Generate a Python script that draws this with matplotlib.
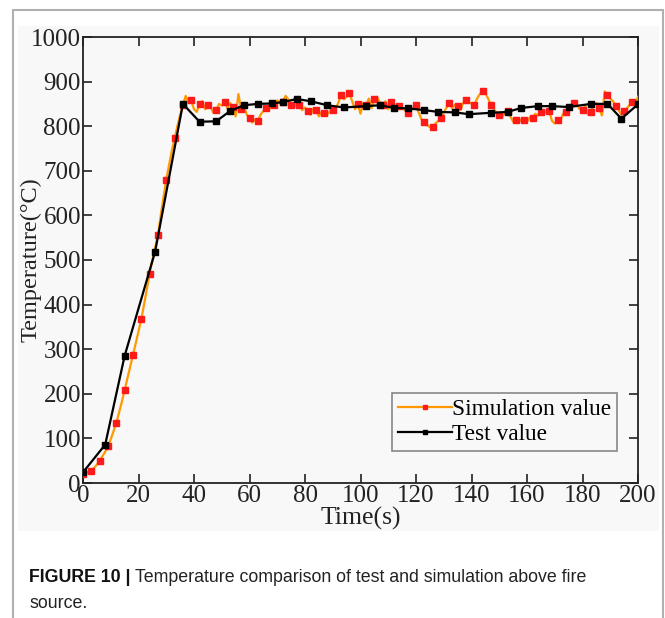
import matplotlib
matplotlib.use("Agg")
import matplotlib.pyplot as plt
from matplotlib.patches import Rectangle

# --- data ---
test_t = [0, 8, 15, 26, 36, 42, 48, 53, 58, 63, 68, 72, 77, 82, 88, 94, 102,
          107, 112, 117, 123, 128, 134, 139, 147, 153, 158, 164, 169, 175,
          183, 189, 194, 200]
test_T = [24, 86, 285, 519, 850, 810, 811, 834, 847, 850, 851, 854, 861, 856,
          847, 842, 845, 847, 841, 840, 836, 832, 831, 827, 830, 832, 841,
          845, 845, 843, 850, 850, 817, 849]

sim_t = list(range(0, 201))
sim_T = [20, 22, 25, 28, 34, 41, 50, 60, 70, 82,
         98, 116, 135, 158, 182, 208, 234, 260, 286, 313,
         340, 367, 400, 435, 469, 500, 528, 556, 600, 640,
         680, 712, 745, 773, 800, 825, 847, 868, 852, 858,
         838, 832, 850, 856, 838, 848, 842, 830, 836, 850,
         846, 855, 840, 852, 844, 822, 872, 838, 845, 826,
         818, 808, 815, 812, 826, 834, 840, 836, 850, 848,
         858, 852, 855, 868, 860, 848, 852, 842, 848, 836,
         842, 834, 826, 840, 836, 822, 832, 829, 826, 834,
         836, 840, 852, 870, 860, 866, 874, 856, 838, 849,
         828, 852, 848, 862, 840, 861, 866, 852, 848, 856,
         838, 855, 846, 836, 845, 840, 836, 829, 842, 838,
         847, 830, 815, 810, 802, 798, 799, 806, 812, 818,
         830, 842, 851, 840, 848, 845, 836, 852, 859, 854,
         850, 847, 862, 872, 878, 874, 862, 847, 840, 830,
         825, 820, 830, 835, 822, 810, 814, 808, 816, 814,
         810, 820, 818, 828, 824, 831, 826, 836, 834, 812,
         806, 814, 812, 828, 831, 840, 846, 851, 848, 838,
         836, 846, 826, 831, 848, 852, 840, 824, 878, 870,
         862, 856, 845, 836, 826, 833, 840, 848, 855, 850,
         866]

x_ticks = [0, 20, 40, 60, 80, 100, 120, 140, 160, 180, 200]
y_ticks = [0, 100, 200, 300, 400, 500, 600, 700, 800, 900, 1000]

W, H = 665, 618
panel_bg = "#f8f8f8"
serif = ["Liberation Serif", "DejaVu Serif"]

fig = plt.figure(figsize=(W / 100, H / 100), dpi=100)
fig.patch.set_facecolor("white")

# outer card border and grey panel behind the chart
fig.patches.append(Rectangle((12.5 / W, -0.05), (663 - 12.5) / W, 1.05 - 10 / H,
                             transform=fig.transFigure, fill=False,
                             edgecolor="#b0b0b0", linewidth=1.5, zorder=-10))
fig.patches.append(Rectangle((18 / W, 1 - 531 / H), (659 - 18) / W, (531 - 26) / H,
                             transform=fig.transFigure, facecolor=panel_bg,
                             edgecolor="none", zorder=-10))

ax = fig.add_axes([83 / W, 1 - 483 / H, (638 - 83) / W, (483 - 37) / H])
ax.set_facecolor(panel_bg)

ax.plot(sim_t, sim_T, color="#ff9900", lw=1.6, marker="s", ms=4.4,
        mfc="#ff1a1a", mec="#ff1a1a", markevery=3, label="Simulation value",
        zorder=3)
ax.plot(test_t, test_T, color="black", lw=1.6, marker="s", ms=4.4,
        mfc="black", mec="black", label="Test value", zorder=4)

ax.set_xlim(0, 200)
ax.set_ylim(0, 1000)
ax.set_xticks(x_ticks)
ax.set_yticks(y_ticks)
ax.tick_params(direction="in", length=6.5, width=1.2, top=True, right=True,
               labelsize=18, colors="#222222", pad=1.5)
for lab in ax.get_xticklabels() + ax.get_yticklabels():
    lab.set_family(serif)
for s in ax.spines.values():
    s.set_linewidth(1.3)
    s.set_color("#222222")

ax.set_xlabel("Time(s)", family=serif, fontsize=18.5, color="#222222",
              labelpad=0)
ax.set_ylabel("Temperature(°C)", family=serif, fontsize=17.5, color="#222222",
              labelpad=-8)

leg = ax.legend(loc="lower right", bbox_to_anchor=(0.962, 0.072),
                borderaxespad=0, fancybox=False, framealpha=1,
                facecolor=panel_bg, edgecolor="#888888",
                handlelength=2.3, handletextpad=0.0,
                labelspacing=0.15, borderpad=0.25, markerscale=0.7,
                prop={"family": serif, "size": 16.8})
leg.get_frame().set_linewidth(1.2)

# caption
renderer = fig.canvas.get_renderer()
cap_font = ["Liberation Sans", "DejaVu Sans"]
t1 = fig.text(29 / W, 1 - 577 / H, "FIGURE 10 |", family=cap_font,
              fontweight="bold", fontsize=12.8, va="center", color="#111111")
bb = t1.get_window_extent(renderer)
fig.text(bb.x1 / W + 4 / W, 1 - 577 / H,
         "Temperature comparison of test and simulation above fire",
         family=cap_font, fontsize=12.8, va="center", color="#222222")
fig.text(29 / W, 1 - 603 / H, "source.", family=cap_font, fontsize=12.8,
         va="center", color="#222222")

fig.savefig("out.png", dpi=100, facecolor="white")
